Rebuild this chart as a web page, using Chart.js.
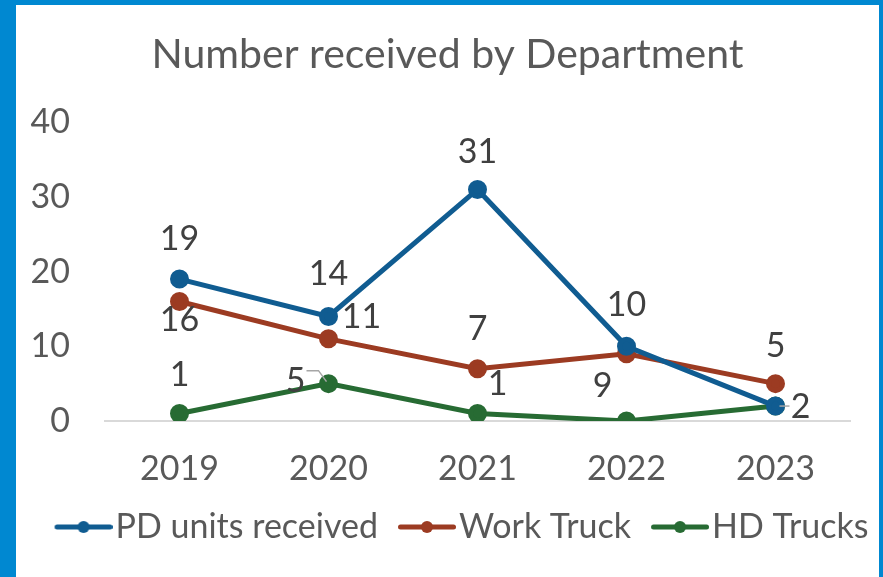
<!DOCTYPE html>
<html>
<head>
<meta charset="utf-8">
<script src="https://cdn.jsdelivr.net/npm/chart.js@4/dist/chart.umd.min.js"></script>
<style>
  html, body { margin: 0; padding: 0; background: #0088d1; }
  #frame { position: absolute; left: 16px; top: 5px; width: 863px; height: 572px; background: #ffffff; }
  canvas { display: block; }
</style>
</head>
<body>
<div id="frame"><canvas id="chart" width="863" height="572"></canvas></div>
<script>
// Chart data
const years = ['2019', '2020', '2021', '2022', '2023'];
const pdUnits = [19, 14, 31, 10, 2];
const workTruck = [16, 11, 7, 9, 5];
const hdTrucks = [1, 5, 1, 0, 2];
const yTicks = [0, 10, 20, 30, 40];

const FONT = 'Lato, "Open Sans", sans-serif';

// Where each value label sits relative to its point (null = label hidden)
const labelPlacement = [
    [[0, -40], [0, -42], [0, -37], [0, -41], null],
    [[0, 19], [33, -22], [0, -40], [-24, 32], [0, -38]],
    [[0, -38], [-33, -3, 'leader'], [20, -29], null, [25, 1, 'leader']]
];

// Legend marker: line with a dot, offset inside a wider canvas so text sits close
function legendMarker(color) {
    const c = document.createElement('canvas');
    c.width = 76; c.height = 16;
    const g = c.getContext('2d');
    g.strokeStyle = color; g.lineWidth = 5; g.lineCap = 'round';
    g.beginPath(); g.moveTo(20.5, 8); g.lineTo(73.5, 8); g.stroke();
    g.fillStyle = color;
    g.beginPath(); g.arc(47, 8, 6, 0, Math.PI * 2); g.fill();
    return c;
}

// Draw value labels (Excel-style) next to the points
const valueLabels = {
    id: 'valueLabels',
    afterLayout(chart) {
        // nudge the legend row a little to the right, like the original
        chart.legend.left += 12;
        chart.legend.right += 12;
    },
    afterDatasetsDraw(chart) {
        const ctx = chart.ctx;
        ctx.save();
        ctx.font = '34px ' + FONT;
        ctx.fillStyle = '#404040';
        ctx.textAlign = 'center';
        ctx.textBaseline = 'middle';
        chart.data.datasets.forEach((ds, i) => {
            const meta = chart.getDatasetMeta(i);
            meta.data.forEach((pt, j) => {
                const place = labelPlacement[i][j];
                if (!place) return;
                const x = pt.x + place[0];
                const y = pt.y + place[1];
                if (place[2] === 'leader') {
                    ctx.strokeStyle = '#a6a6a6';
                    ctx.lineWidth = 1.5;
                    ctx.beginPath();
                    if (place[0] < 0) {
                        ctx.moveTo(x + 11, y - 10);
                        ctx.lineTo(x + 23, y - 10);
                        ctx.lineTo(pt.x - 2, pt.y - 2);
                    } else {
                        ctx.moveTo(pt.x + 4, pt.y);
                        ctx.lineTo(x - 11, pt.y);
                    }
                    ctx.stroke();
                }
                ctx.fillText(String(ds.data[j]), x, y);
            });
        });
        ctx.restore();
    }
};

function series(label, data, color) {
    return {
        label: label,
        data: data,
        borderColor: color,
        backgroundColor: color,
        borderWidth: 5,
        pointRadius: 7,
        pointHoverRadius: 7,
        pointStyle: 'circle',
        tension: 0,
        legendMarker: legendMarker(color)
    };
}

new Chart(document.getElementById('chart'), {
    type: 'line',
    data: {
        labels: years,
        datasets: [
            series('PD units received', pdUnits, '#105c91'),
            series('Work Truck', workTruck, '#9c3b22'),
            series('HD Trucks', hdTrucks, '#276b33')
        ]
    },
    options: {
        responsive: false,
        animation: false,
        layout: { padding: { left: 0, right: 0, top: 10, bottom: 23 } },
        plugins: {
            title: {
                display: true,
                text: 'Number received by Department',
                color: '#595959',
                font: { size: 41, family: FONT, weight: 'normal' },
                padding: { top: 15, bottom: 43 }
            },
            legend: {
                position: 'bottom',
                labels: {
                    color: '#595959',
                    font: { size: 34, family: FONT },
                    usePointStyle: true,
                    pointStyleWidth: 48,
                    padding: 16,
                    generateLabels(chart) {
                        return chart.data.datasets.map((ds, i) => ({
                            text: ds.label,
                            pointStyle: ds.legendMarker,
                            fontColor: '#595959',
                            lineWidth: 0,
                            datasetIndex: i
                        }));
                    }
                }
            },
            tooltip: { enabled: false }
        },
        scales: {
            x: {
                offset: true,
                grid: { display: false, drawTicks: false },
                border: { display: true, color: '#d9d9d9', width: 2 },
                ticks: { color: '#595959', font: { size: 34, family: FONT }, padding: 28 },
                afterFit(axis) { axis.height = 73; }
            },
            y: {
                min: yTicks[0],
                max: yTicks[yTicks.length - 1],
                afterBuildTicks(axis) { axis.ticks = yTicks.map(v => ({ value: v })); },
                afterFit(axis) { axis.width = 89; },
                grid: { display: false, drawTicks: false },
                border: { display: false },
                ticks: { color: '#595959', font: { size: 34, family: FONT }, padding: 35 }
            },
            // empty right-hand axis that only reserves the right margin
            yRight: {
                position: 'right',
                grid: { display: false, drawTicks: false },
                border: { display: false },
                ticks: { display: false },
                afterFit(axis) { axis.width = 29; }
            }
        }
    },
    plugins: [valueLabels]
});
</script>
</body>
</html>
